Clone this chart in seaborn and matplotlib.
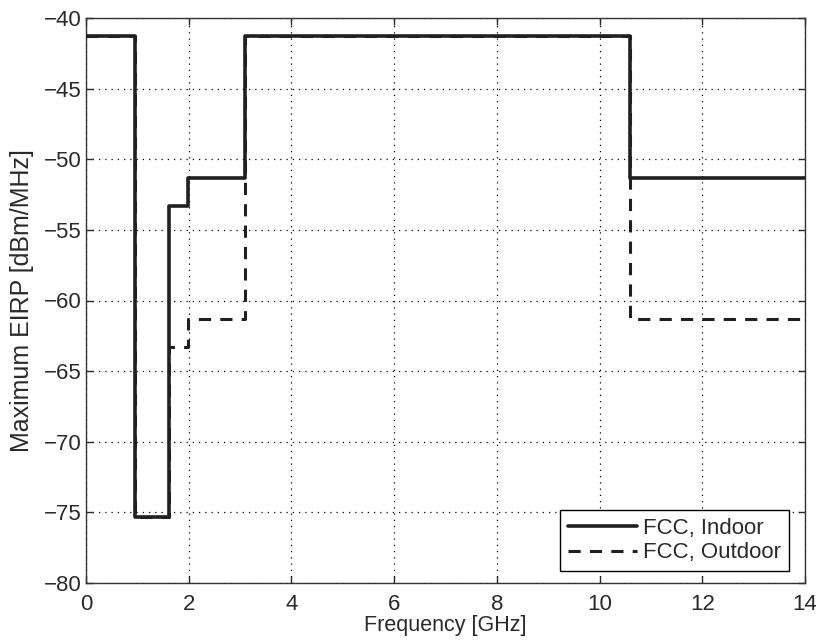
import numpy as np
import pandas as pd
import seaborn as sns
import matplotlib
matplotlib.use("Agg")
import matplotlib.pyplot as plt

freq_edges = [0, 0.96, 1.61, 1.99, 3.1, 10.6, 14]
indoor = [-41.3, -75.3, -53.3, -51.3, -41.3, -51.3, -51.3]
outdoor = [-41.3, -75.3, -63.3, -61.3, -41.3, -61.3, -61.3]

sns.set_theme(style="white")
plt.rcParams['font.family'] = ['Liberation Sans', 'DejaVu Sans']

fig = plt.figure(figsize=(8.16, 6.42), dpi=100)
ax = fig.add_axes([86/816, 1-583/642, 719/816, 565/642])

df_out = pd.DataFrame({"f": freq_edges, "p": outdoor})
df_in = pd.DataFrame({"f": freq_edges, "p": indoor})
sns.lineplot(data=df_out, x="f", y="p", ax=ax, color="#202020", lw=2.2,
             linestyle=(0, (4, 3)), drawstyle="steps-post", label="FCC, Outdoor", zorder=3)
sns.lineplot(data=df_in, x="f", y="p", ax=ax, color="#202020", lw=2.6,
             drawstyle="steps-post", label="FCC, Indoor", zorder=4)

ax.set_xlim(0, 14)
ax.set_ylim(-80, -40)
ax.set_xticks(np.arange(0, 15, 2))
ax.set_yticks(np.arange(-80, -39, 5))
ax.set_xticklabels([str(v) for v in range(0, 15, 2)])
ax.set_yticklabels([f"\u2212{abs(v)}" for v in range(-80, -39, 5)])
ax.grid(True, color="black", linestyle=(0, (1, 4)), linewidth=0.9)
ax.tick_params(direction="in", length=5, width=1, colors="#2a2a2a", labelsize=16,
               top=True, right=True, bottom=True, left=True)
ax.tick_params(axis="x", pad=8)
ax.tick_params(axis="y", pad=3)
for s in ax.spines.values():
    s.set_color("#333333")
    s.set_linewidth(1.0)
ax.set_xlabel("Frequency [GHz]", fontsize=15.5, labelpad=0, color="#2a2a2a")
ax.set_ylabel("Maximum EIRP [dBm/MHz]", fontsize=18, labelpad=7, color="#2a2a2a")

h, l = ax.get_legend_handles_labels()
leg = ax.legend(h[::-1], l[::-1], loc="lower right", bbox_to_anchor=(0.978, 0.021),
                fontsize=16, frameon=True, fancybox=False, edgecolor="black",
                framealpha=1, borderaxespad=0, handlelength=3.1, handletextpad=0.3,
                borderpad=0.35, labelspacing=0.15)
leg.get_frame().set_linewidth(1.0)
for t in leg.get_texts():
    t.set_color("#2a2a2a")

fig.savefig("out.png", dpi=100)
